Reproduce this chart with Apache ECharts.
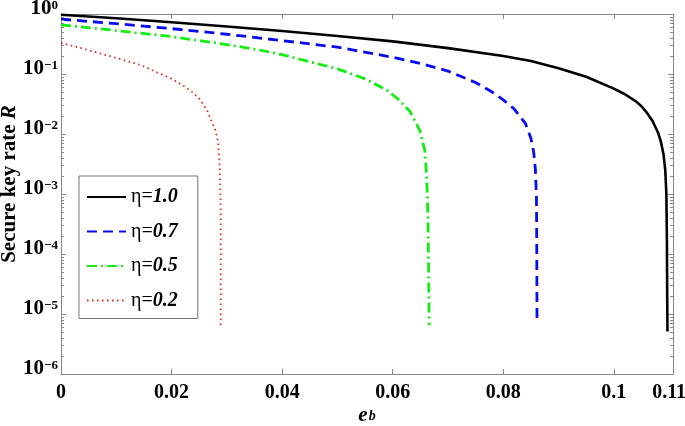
<!DOCTYPE html>
<html><head><meta charset="utf-8">
<script src="https://cdn.jsdelivr.net/npm/echarts@6/dist/echarts.min.js"></script>
<style>html,body{margin:0;padding:0;background:#fff}#c{width:685px;height:426px}</style>
</head><body><div id="c"></div>
<script>
// ---- data (e_b, R) ----
const curveEta10 = [[0,0.97],[0.01,0.85],[0.02,0.73],[0.03,0.62],[0.04,0.52],[0.05,0.43],[0.06,0.35],[0.07,0.27],[0.08,0.20],[0.085,0.165],[0.09,0.125],[0.095,0.090],[0.1,0.057],[0.102,0.046],[0.104,0.035],[0.105,0.029],[0.106,0.0225],[0.107,0.0165],[0.108,0.0105],[0.1085,0.0075],[0.109,0.0045],[0.1093,0.0025],[0.1095,0.0010],[0.1096,0.00017],[0.10965,0.00002],[0.1097,0.0000051]];
const curveEta07 = [[0,0.82],[0.01,0.69],[0.02,0.57],[0.03,0.46],[0.04,0.36],[0.05,0.28],[0.06,0.19],[0.065,0.15],[0.07,0.112],[0.075,0.072],[0.078,0.050],[0.08,0.037],[0.082,0.026],[0.084,0.015],[0.085,0.0085],[0.0855,0.0050],[0.0858,0.0026],[0.086,0.0009],[0.08605,0.0002],[0.08608,0.00003],[0.0861,0.0000068]];
const curveEta05 = [[0,0.66],[0.01,0.53],[0.02,0.42],[0.03,0.31],[0.036,0.25],[0.04,0.21],[0.045,0.16],[0.05,0.122],[0.055,0.083],[0.0589,0.054],[0.061,0.038],[0.0631,0.024],[0.0649,0.0115],[0.0658,0.0054],[0.0661,0.0022],[0.0663,0.0008],[0.0664,0.0003],[0.0665,0.00005],[0.0666,0.0000065]];
const curveEta02 = [[0,0.33],[0.003,0.28],[0.006,0.235],[0.01,0.185],[0.0144,0.141],[0.0198,0.085],[0.022,0.065],[0.024,0.048],[0.0252,0.037],[0.0264,0.025],[0.0279,0.0117],[0.0284,0.0075],[0.0287,0.003],[0.0288,0.0015],[0.0289,0.0004],[0.0289,0.0000065]];
const seriesNames = ['η=1.0','η=0.7','η=0.5','η=0.2'];
const xTickValues = [0,0.02,0.04,0.06,0.08,0.1];
const xLabelValues = [0,0.02,0.04,0.06,0.08,0.1,0.11];
const yDecades = [1e-6,1e-5,1e-4,1e-3,1e-2,1e-1,1];
const yMinorMantissas = [2,3,4,5,6,7,8,9];

const FONT = '"Liberation Serif","Times New Roman",serif';
const AX = '#888';
const yMinor = [];
yDecades.slice(0,-1).forEach(d => yMinorMantissas.forEach(m => yMinor.push(+(d*m).toPrecision(3))));

const chart = echarts.init(document.getElementById('c'));

function lineSeries(name, data, color, width, type) {
  return {
    name, type:'line', data, showSymbol:false, symbol:'none',
    lineStyle:{color, width, type}, itemStyle:{color},
    animation:false, z:3
  };
}

const xCommon = {
  type:'value', min:0, max:0.1107,
  splitLine:{show:false},
  axisLine:{onZero:false, lineStyle:{color:AX, width:1}},
  axisTick:{inside:true, length:5, customValues:xTickValues, lineStyle:{color:AX}}
};
const yCommon = {
  type:'log', logBase:10, min:1e-6, max:1,
  splitLine:{show:false},
  axisLine:{onZero:false, lineStyle:{color:AX, width:1}},
  axisTick:{inside:true, length:5, lineStyle:{color:AX}}
};

chart.setOption({
  animation:false,
  backgroundColor:'#fff',
  grid:{left:61, right:12, top:14, bottom:52, containLabel:false, outerBoundsMode:'none'},
  xAxis:[
    Object.assign({}, xCommon, {
      position:'bottom',
      axisLabel:{customValues:xLabelValues, color:'#000', fontFamily:FONT, fontWeight:'bold', fontSize:20, margin:9,
        formatter:v => String(+(+v).toFixed(3))},
      name:'{e|e}{b|b}', nameLocation:'middle', nameGap:31, nameMoveOverlap:false,
      nameTextStyle:{rich:{
        e:{fontFamily:FONT, fontWeight:'bold', fontStyle:'italic', fontSize:21, lineHeight:18, verticalAlign:'top', color:'#000'},
        b:{fontFamily:FONT, fontWeight:'bold', fontStyle:'italic', fontSize:14, lineHeight:12, verticalAlign:'bottom', padding:[11,0,0,1], color:'#000'}
      }}
    }),
    Object.assign({}, xCommon, {position:'top', axisLabel:{show:false}})
  ],
  yAxis:[
    Object.assign({}, yCommon, {
      position:'left',
      axisLabel:{color:'#000', margin:3, padding:[0,0,10,0],
        formatter:v => { const ex = Math.round(Math.log10(v)); return '{b|10}{x|' + (ex < 0 ? '\u2212' + (-ex) : ex) + '}'; },
        rich:{
          b:{fontFamily:FONT, fontWeight:'bold', fontSize:21, lineHeight:20, verticalAlign:'bottom', color:'#000'},
          x:{fontFamily:FONT, fontWeight:'bold', fontSize:13, lineHeight:14, verticalAlign:'top', color:'#000'}
        }},
      name:'{n|Secure key rate }{r|R}', nameLocation:'middle', nameGap:41, nameRotate:90, nameMoveOverlap:false,
      nameTextStyle:{padding:[0,0,0,20], rich:{
        n:{fontFamily:FONT, fontWeight:'bold', fontSize:21, color:'#000'},
        r:{fontFamily:FONT, fontWeight:'bold', fontStyle:'italic', fontSize:21, color:'#000'}
      }}
    }),
    Object.assign({}, yCommon, {position:'right', axisLabel:{show:false}})
  ],
  legend:{
    data:seriesNames, orient:'vertical', left:79, top:176,
    itemWidth:39, itemHeight:14, itemGap:14.5,
    padding:[11,20,8,7],
    borderColor:'#777', borderWidth:1, backgroundColor:'#fff',
    itemStyle:{opacity:0},
    formatter:name => '{g|η=}{v|' + name.slice(2) + '}',
    textStyle:{rich:{
      g:{fontFamily:FONT, fontSize:20, lineHeight:20, color:'#000'},
      v:{fontFamily:FONT, fontWeight:'bold', fontStyle:'italic', fontSize:20, lineHeight:20, color:'#000'}
    }}
  },
  series:[
    lineSeries(seriesNames[0], curveEta10, '#000000', 2.6, 'solid'),
    lineSeries(seriesNames[1], curveEta07, '#0a0af0', 2.8, [10,6]),
    lineSeries(seriesNames[2], curveEta05, '#11ee11', 2.8, [10,4,2,4]),
    lineSeries(seriesNames[3], curveEta02, '#ee2828', 1.8, [1.6,3.4]),
    {
      type:'custom', silent:true, clip:false, z:5, animation:false,
      data: yMinor.map(v => [0, v]),
      renderItem:(params, api) => {
        const y = Math.round(api.coord([0, api.value(1)])[1]) + 0.5;
        const cs = params.coordSys;
        return {type:'group', children:[
          {type:'line', shape:{x1:cs.x, y1:y, x2:cs.x+3, y2:y}, style:{stroke:AX, lineWidth:1}},
          {type:'line', shape:{x1:cs.x+cs.width-3, y1:y, x2:cs.x+cs.width, y2:y}, style:{stroke:AX, lineWidth:1}}
        ]};
      }
    }
  ]
});
</script></body></html>
